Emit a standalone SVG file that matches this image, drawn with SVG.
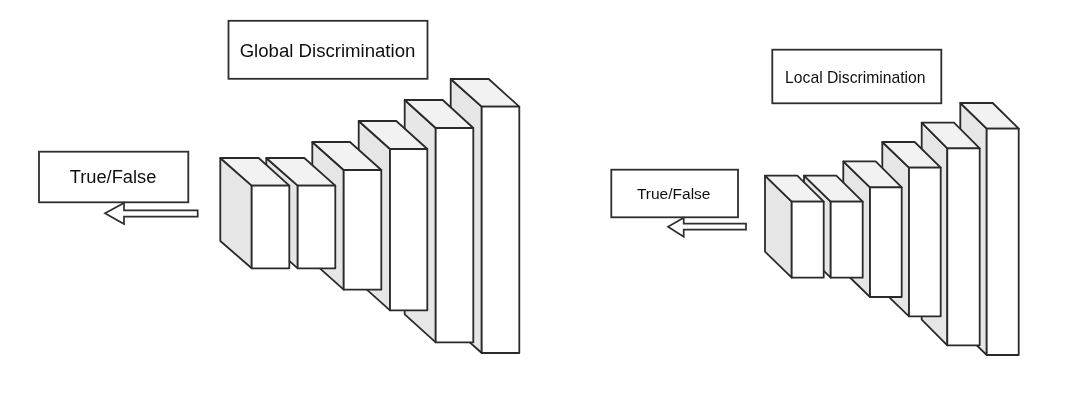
<svg xmlns="http://www.w3.org/2000/svg" width="1080" height="410" viewBox="0 0 1080 410">
  <defs>
    <filter id="soft" x="-2%" y="-2%" width="104%" height="104%"><feGaussianBlur stdDeviation="0.45"/></filter>
  </defs>
  <style>
    .box { fill: #ffffff; stroke: #2e2e2e; stroke-width: 1.8; }
    .label { font-family: "Liberation Sans", Arial, sans-serif; fill: #111111; text-anchor: middle; }
    .side { fill: #e6e6e6; }
    .top { fill: #f2f2f2; }
    .front { fill: #ffffff; }
    .side, .top, .front { stroke: #2a2a2a; stroke-width: 1.8; stroke-linejoin: round; }
    .arrow { fill: #ffffff; stroke: #2e2e2e; stroke-width: 1.7; stroke-linejoin: miter; }
  </style>
  <rect width="1080" height="410" fill="#ffffff"/>
  <g filter="url(#soft)">
    <g id="global-discrimination">
      <rect class="box" x="228.5" y="20.8" width="199" height="58"/>
      <text class="label" x="327.5" y="56.7" font-size="18.6">Global Discrimination</text>
    </g>
    <g id="true-false-left">
      <rect class="box" x="39" y="151.7" width="149.3" height="50.6"/>
      <text class="label" x="113" y="182.7" font-size="18.3">True/False</text>
    </g>
    <g id="local-discrimination">
      <rect class="box" x="772.3" y="49.7" width="169" height="53.6"/>
      <text class="label" x="855.3" y="82.7" font-size="15.7">Local Discrimination</text>
    </g>
    <g id="true-false-right">
      <rect class="box" x="611.3" y="169.7" width="126.7" height="47.6"/>
      <text class="label" x="673.7" y="199" font-size="15.5">True/False</text>
    </g>
    <g id="connectors">
      <polygon class="arrow" points="197.7,210.3 124,210.3 124,203 105,213.3 124,224 124,216.7 197.7,216.7"/>
      <polygon class="arrow" points="746,223.7 683.7,223.7 683.7,217.7 668,226.7 683.7,236.7 683.7,229.7 746,229.7"/>
    </g>
    <g id="global-layer-6">
      <polygon class="side" points="450.7,79 481.7,106.7 481.7,353 450.7,325.3"/>
      <polygon class="top" points="450.7,79 488.7,79 519.3,106.7 481.7,106.7"/>
      <rect class="front" x="481.7" y="106.7" width="37.6" height="246.3"/>
    </g>
    <g id="global-layer-5">
      <polygon class="side" points="404.7,100 435.7,128 435.7,342.3 404.7,314.3"/>
      <polygon class="top" points="404.7,100 442.7,100 473.3,128 435.7,128"/>
      <rect class="front" x="435.7" y="128" width="37.6" height="214.3"/>
    </g>
    <g id="global-layer-4">
      <polygon class="side" points="358.7,121 390,149 390,310.3 358.7,282.3"/>
      <polygon class="top" points="358.7,121 396.3,121 427.3,149 390,149"/>
      <rect class="front" x="390" y="149" width="37.3" height="161.3"/>
    </g>
    <g id="global-layer-3">
      <polygon class="side" points="312.3,142 343.7,170 343.7,289.7 312.3,261.7"/>
      <polygon class="top" points="312.3,142 350,142 381.3,170 343.7,170"/>
      <rect class="front" x="343.7" y="170" width="37.6" height="119.7"/>
    </g>
    <g id="global-layer-2">
      <polygon class="side" points="266.3,158 297.7,185.7 297.7,268.3 266.3,240.6"/>
      <polygon class="top" points="266.3,158 304.3,158 335.3,185.7 297.7,185.7"/>
      <rect class="front" x="297.7" y="185.7" width="37.6" height="82.6"/>
    </g>
    <g id="global-layer-1">
      <polygon class="side" points="220.3,158 251.7,185.7 251.7,268.3 220.3,241"/>
      <polygon class="top" points="220.3,158 258.7,158 289.3,185.7 251.7,185.7"/>
      <rect class="front" x="251.7" y="185.7" width="37.6" height="82.6"/>
    </g>
    <g id="local-layer-6">
      <polygon class="side" points="960.3,103 986.7,128.7 986.7,355 960.3,329.3"/>
      <polygon class="top" points="960.3,103 992.7,103 1018.7,128.7 986.7,128.7"/>
      <rect class="front" x="986.7" y="128.7" width="32" height="226.3"/>
    </g>
    <g id="local-layer-5">
      <polygon class="side" points="921.7,122.7 947.3,148.3 947.3,345.3 921.7,319.7"/>
      <polygon class="top" points="921.7,122.7 954,122.7 979.7,148.3 947.3,148.3"/>
      <rect class="front" x="947.3" y="148.3" width="32.4" height="197"/>
    </g>
    <g id="local-layer-4">
      <polygon class="side" points="882.3,142 909,167.7 909,316.3 882.3,290.6"/>
      <polygon class="top" points="882.3,142 914.7,142 940.7,167.7 909,167.7"/>
      <rect class="front" x="909" y="167.7" width="31.7" height="148.6"/>
    </g>
    <g id="local-layer-3">
      <polygon class="side" points="843.3,161.3 870,187.3 870,297 843.3,271"/>
      <polygon class="top" points="843.3,161.3 875.7,161.3 901.7,187.3 870,187.3"/>
      <rect class="front" x="870" y="187.3" width="31.7" height="109.7"/>
    </g>
    <g id="local-layer-2">
      <polygon class="side" points="804,175.7 830.7,201.7 830.7,277.7 804,251.7"/>
      <polygon class="top" points="804,175.7 836.3,175.7 862.7,201.7 830.7,201.7"/>
      <rect class="front" x="830.7" y="201.7" width="32" height="76"/>
    </g>
    <g id="local-layer-1">
      <polygon class="side" points="765,175.7 791.7,201.7 791.7,277.7 765,251.7"/>
      <polygon class="top" points="765,175.7 797.3,175.7 823.7,201.7 791.7,201.7"/>
      <rect class="front" x="791.7" y="201.7" width="32" height="76"/>
    </g>
  </g>
</svg>
